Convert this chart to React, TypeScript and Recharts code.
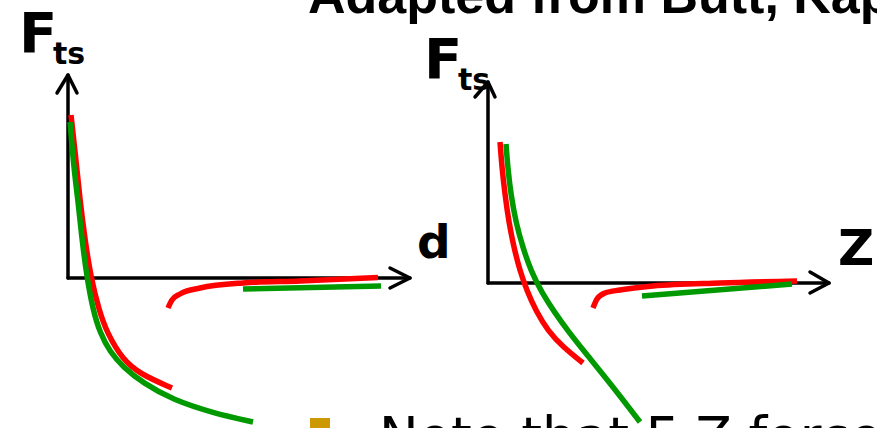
import { Line, LineChart, XAxis, YAxis } from "recharts";

type Pt = { x: number; y: number };

// left plot: F_ts vs d (origin at the axes corner, y up)
const leftRedNear: Pt[] = [
  { x: 3, y: 163 }, { x: 8, y: 118 }, { x: 12, y: 78 }, { x: 17, y: 38 },
  { x: 23, y: 0 }, { x: 31, y: -32 }, { x: 39, y: -55 }, { x: 55, y: -82 },
  { x: 72, y: -96 }, { x: 104, y: -110 },
];
const leftGreenNear: Pt[] = [
  { x: 2, y: 156 }, { x: 6, y: 108 }, { x: 10, y: 78 }, { x: 14, y: 38 },
  { x: 19, y: 0 }, { x: 25, y: -32 }, { x: 32, y: -55 }, { x: 42, y: -74 },
  { x: 55, y: -89 }, { x: 75, y: -105 }, { x: 105, y: -122 },
  { x: 145, y: -135 }, { x: 185, y: -144 },
];
const leftRedFar: Pt[] = [
  { x: 100, y: -30 }, { x: 104, y: -22 }, { x: 112, y: -16 }, { x: 132, y: -10 },
  { x: 175, y: -5 }, { x: 232, y: -3 }, { x: 310, y: 0.5 },
];
const leftGreenFar: Pt[] = [{ x: 175, y: -11 }, { x: 313, y: -8 }];
const leftYAxis: Pt[] = [{ x: 0, y: 0 }, { x: 0, y: 203 }];
const leftYArrow: Pt[] = [{ x: -11, y: 185 }, { x: 0, y: 203 }, { x: 9, y: 185 }];
const leftXAxis: Pt[] = [{ x: 0, y: 0 }, { x: 342, y: 0 }];
const leftXArrow: Pt[] = [{ x: 322, y: 10 }, { x: 342, y: 0 }, { x: 322, y: -10 }];

// right plot: F_ts vs Z
const rightRedNear: Pt[] = [
  { x: 12, y: 141 }, { x: 14, y: 115 }, { x: 17, y: 88 }, { x: 21, y: 60 },
  { x: 26, y: 35 }, { x: 32, y: 12 }, { x: 39, y: -8 }, { x: 48, y: -28 },
  { x: 60, y: -48 }, { x: 75, y: -64 }, { x: 95, y: -80 },
];
const rightGreenNear: Pt[] = [
  { x: 18, y: 139 }, { x: 20, y: 113 }, { x: 23, y: 88 }, { x: 28, y: 60 },
  { x: 35, y: 35 }, { x: 43, y: 12 }, { x: 54, y: -10 }, { x: 67, y: -30 },
  { x: 80, y: -48 }, { x: 95, y: -67 }, { x: 122, y: -100 }, { x: 152, y: -139 },
];
const rightRedFar: Pt[] = [
  { x: 105, y: -25 }, { x: 109, y: -16 }, { x: 117, y: -10 }, { x: 132, y: -7 },
  { x: 165, y: -3 }, { x: 232, y: 0 }, { x: 309, y: 2 },
];
const rightGreenFar: Pt[] = [{ x: 154, y: -13 }, { x: 304, y: -1 }];
const rightYAxis: Pt[] = [{ x: 0, y: 0 }, { x: 0, y: 201 }];
const rightYArrow: Pt[] = [{ x: -13, y: 186 }, { x: 0, y: 201 }, { x: 7, y: 186 }];
const rightXAxis: Pt[] = [{ x: 0, y: 0 }, { x: 341, y: 0 }];
const rightXArrow: Pt[] = [{ x: 322, y: 11 }, { x: 341, y: 0 }, { x: 322, y: -10 }];

const RED = "#ff0000";
const GREEN = "#009900";
const LABEL_FONT = "'DejaVu Sans', sans-serif";

type PlotProps = {
  left: number;
  width: number;
  xDomain: [number, number];
  yDomain: [number, number];
  redNear: Pt[];
  greenNear: Pt[];
  redFar: Pt[];
  greenFar: Pt[];
  axes: Pt[][];
};

function Plot(p: PlotProps) {
  return (
    <div style={{ position: "absolute", left: p.left, top: 0 }}>
      <LineChart width={p.width} height={428} margin={{ top: 0, right: 0, bottom: 0, left: 0 }}>
        <XAxis type="number" dataKey="x" domain={p.xDomain} hide allowDataOverflow />
        <YAxis type="number" dataKey="y" domain={p.yDomain} hide allowDataOverflow />
        {p.axes.map((a, i) => (
          <Line
            key={`ax-${i}`}
            data={a}
            dataKey="y"
            type="linear"
            stroke="#000"
            strokeWidth={3.5}
            strokeLinecap="round"
            strokeLinejoin="round"
            dot={false}
            activeDot={false}
            isAnimationActive={false}
          />
        ))}
        <Line data={p.redFar} dataKey="y" type="monotone" stroke={RED} strokeWidth={5.5} dot={false} activeDot={false} isAnimationActive={false} />
        <Line data={p.greenFar} dataKey="y" type="linear" stroke={GREEN} strokeWidth={5.5} dot={false} activeDot={false} isAnimationActive={false} />
        <Line data={p.redNear} dataKey="y" type="basis" stroke={RED} strokeWidth={5.5} dot={false} activeDot={false} isAnimationActive={false} />
        <Line data={p.greenNear} dataKey="y" type="basis" stroke={GREEN} strokeWidth={5.5} dot={false} activeDot={false} isAnimationActive={false} />
      </LineChart>
    </div>
  );
}

export default function App() {
  return (
    <div style={{ position: "absolute", left: 0, top: 0, width: 877, height: 428, background: "#fff", overflow: "hidden" }}>
      <Plot
        left={0}
        width={440}
        xDomain={[-68, 372]}
        yDomain={[-150, 278]}
        redNear={leftRedNear}
        greenNear={leftGreenNear}
        redFar={leftRedFar}
        greenFar={leftGreenFar}
        axes={[leftYAxis, leftYArrow, leftXAxis, leftXArrow]}
      />
      <Plot
        left={420}
        width={457}
        xDomain={[-68, 389]}
        yDomain={[-145, 283]}
        redNear={rightRedNear}
        greenNear={rightGreenNear}
        redFar={rightRedFar}
        greenFar={rightGreenFar}
        axes={[rightYAxis, rightYArrow, rightXAxis, rightXArrow]}
      />
      <svg width={877} height={428} style={{ position: "absolute", left: 0, top: 0, pointerEvents: "none" }}>
        <text x={308} y={13} fontFamily="'Liberation Sans', Arial, sans-serif" fontWeight="bold" fontSize={52} fill="#000">
          Adapted from Butt, Kap
        </text>
        <text x={19} y={52} fontFamily={LABEL_FONT} fontWeight="bold" fontSize={56} fill="#000">F</text>
        <text x={53} y={64} fontFamily={LABEL_FONT} fontWeight="bold" fontSize={30} fill="#000">ts</text>
        <text x={424} y={78} fontFamily={LABEL_FONT} fontWeight="bold" fontSize={56} fill="#000">F</text>
        <text x={458} y={90} fontFamily={LABEL_FONT} fontWeight="bold" fontSize={30} fill="#000">ts</text>
        <text x={417} y={258} fontFamily={LABEL_FONT} fontWeight="bold" fontSize={47} fill="#000">d</text>
        <text x={838} y={265} fontFamily={LABEL_FONT} fontWeight="bold" fontSize={50} fill="#000">Z</text>
        <rect x={310} y={418} width={20} height={14} fill="#cc9900" />
        <text x={379} y={455} fontFamily={LABEL_FONT} fontSize={53} fill="#000">Note that F-Z forces</text>
      </svg>
    </div>
  );
}
